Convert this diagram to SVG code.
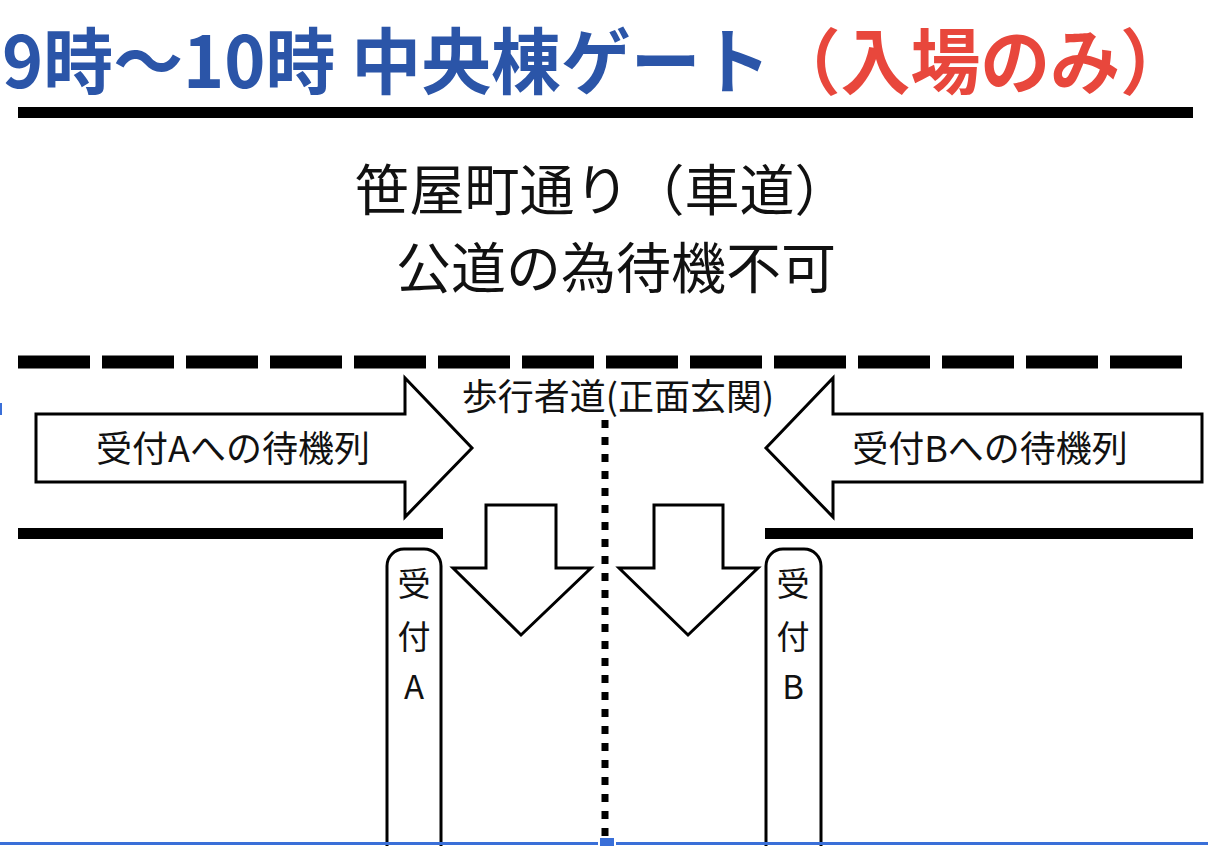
<svg xmlns="http://www.w3.org/2000/svg" width="1208" height="846" viewBox="0 0 1208 846">
<style>
.t{font-family:"Noto Sans CJK JP","Noto Sans",sans-serif;fill:#111}
.s{fill:#fff;stroke:#000;stroke-width:3;stroke-linejoin:miter}
</style>
<rect width="1208" height="846" fill="#fff"/>
<g id="title">
<text x="2" y="88" font-family="Noto Sans CJK JP,sans-serif" font-weight="bold" font-size="72" fill="#2b55a8" textLength="1188" lengthAdjust="spacingAndGlyphs">9時〜10時 中央棟ゲート<tspan fill="#e8473c">（入場のみ）</tspan></text>
</g>
<g id="lines">
<rect x="18" y="107" width="1175" height="11" fill="#000"/>
<line x1="18" y1="362" x2="1193" y2="362" stroke="#000" stroke-width="13" stroke-dasharray="72 12"/>
<rect x="18" y="528" width="425" height="11" fill="#000"/>
<rect x="765" y="528" width="428" height="11" fill="#000"/>
<line x1="605" y1="420" x2="605" y2="838" stroke="#000" stroke-width="7" stroke-dasharray="8 9"/>
</g>
<g id="road" class="t" text-anchor="middle" font-size="55">
<text x="602" y="210">笹屋町通り（車道）</text>
<text x="616" y="288">公道の為待機不可</text>
</g>
<g id="sidewalk"><text class="t" x="618" y="410" text-anchor="middle" font-size="36">歩行者道(正面玄関)</text></g>
<g id="queueA">
<path class="s" d="M36,414 H405 V378 L472,448 L405,517 V482 H36 Z"/>
<text class="t" x="233" y="462" text-anchor="middle" font-size="36">受付Aへの待機列</text>
</g>
<g id="queueB">
<path class="s" d="M1202,414 H833 V378 L766,448 L833,517 V482 H1202 Z"/>
<text class="t" x="990" y="462" text-anchor="middle" font-size="36">受付Bへの待機列</text>
</g>
<g id="downL"><path class="s" d="M486,505 H556 V568 H591 L521,635 L453,568 H486 Z"/></g>
<g id="downR"><path class="s" d="M654,505 H723 V568 H758 L688,635 L619,568 H654 Z"/></g>
<g id="boothA">
<path class="s" d="M387,850 V566 A17,17 0 0 1 404,549 H424 A17,17 0 0 1 441,566 V850"/>
<g class="t" text-anchor="middle" font-size="33"><text x="414" y="596">受</text><text x="414" y="649">付</text><text x="414" y="699">A</text></g>
</g>
<g id="boothB">
<path class="s" d="M766,850 V566 A17,17 0 0 1 783,549 H804 A17,17 0 0 1 821,566 V850"/>
<g class="t" text-anchor="middle" font-size="33"><text x="793" y="596">受</text><text x="793" y="649">付</text><text x="793" y="699">B</text></g>
</g>
<g id="marks" fill="#3a6fd8">
<rect x="0" y="842" width="598" height="3"/>
<rect x="616" y="842" width="592" height="3"/>
<rect x="600" y="838" width="14" height="8"/>
<rect x="0" y="403" width="2" height="12"/>
</g>
</svg>
